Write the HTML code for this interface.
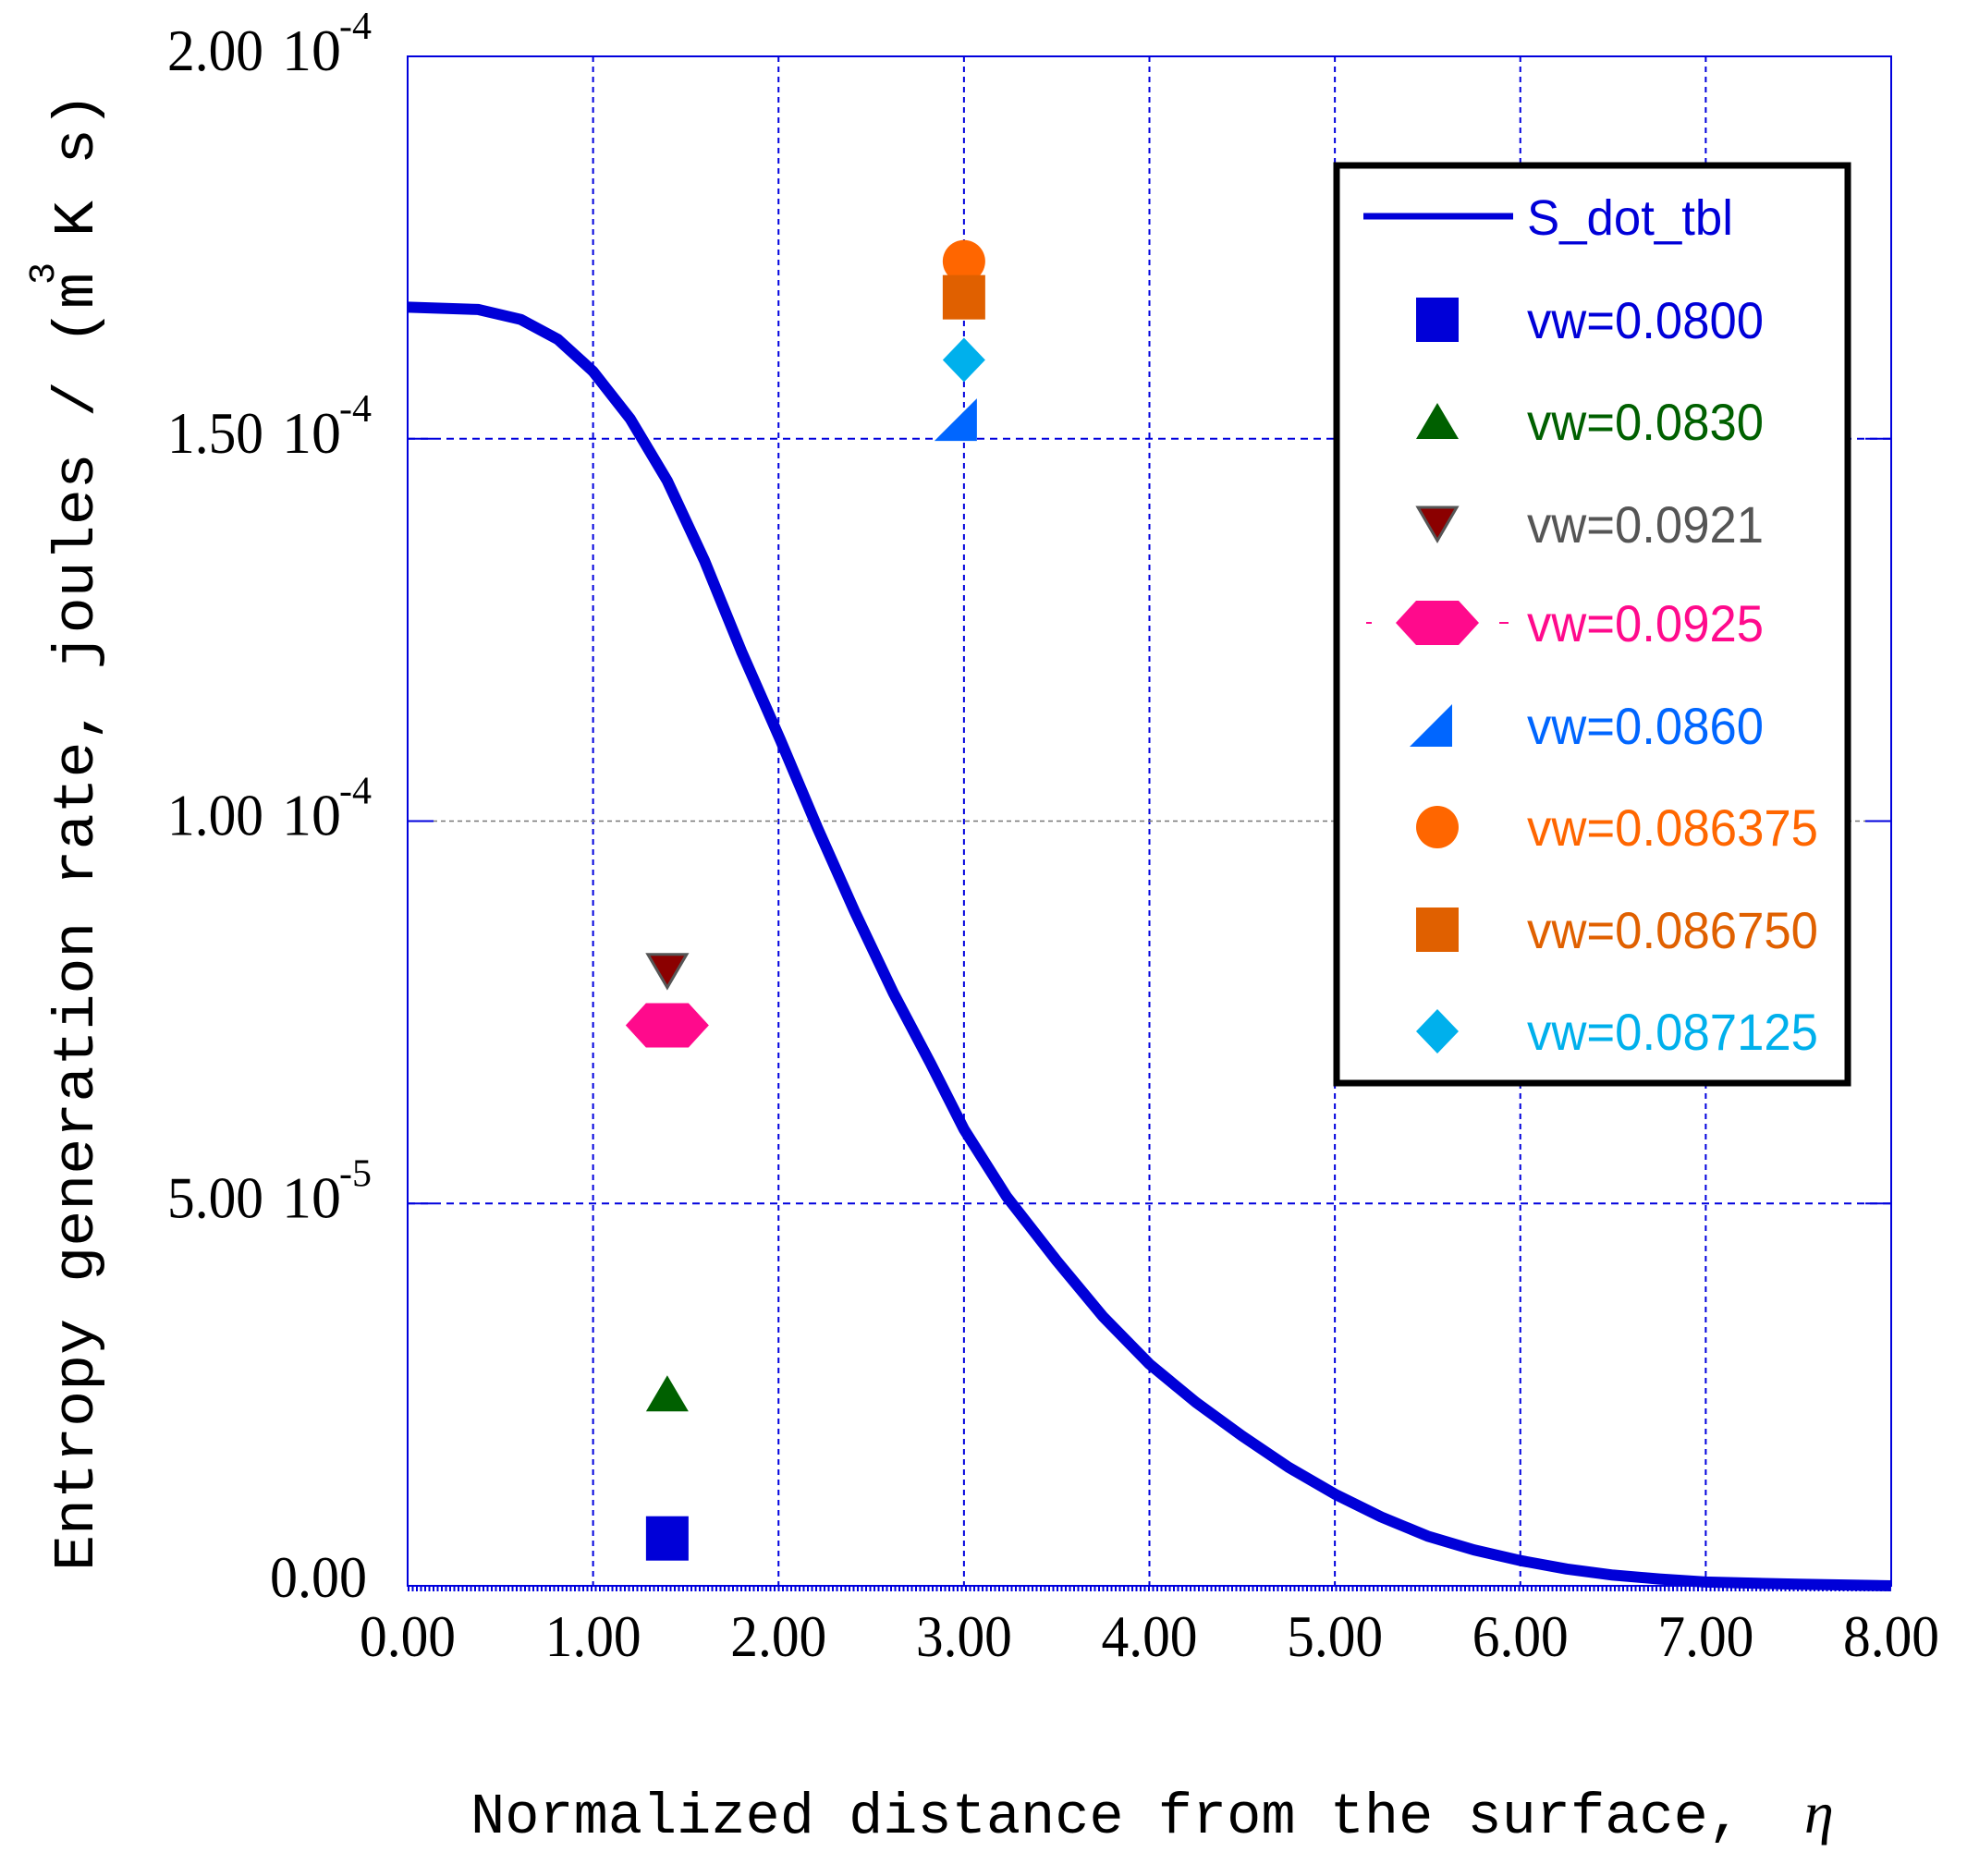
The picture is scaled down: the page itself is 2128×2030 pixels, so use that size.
<!DOCTYPE html>
<html><head><meta charset="utf-8"><style>
html,body{margin:0;padding:0;background:#fff;}
svg{display:block;}
</style></head><body>
<svg id="chart" width="2128" height="2030" viewBox="0 0 2128 2030" xmlns="http://www.w3.org/2000/svg">
<rect width="2128" height="2030" fill="#fff"/>
<g id="grid"></g>
<g id="axes"></g>
<g id="series"></g>
<g id="legend">
  <rect x="1446" y="179" width="553" height="993" fill="#fff" stroke="#000" stroke-width="7"/>
</g>
<text x="509" y="1983" font-family="'Liberation Mono', monospace" font-size="62" textLength="1376" lengthAdjust="spacingAndGlyphs" fill="#000">Normalized distance from the surface,</text>
<text x="1952" y="1983" font-family="'Liberation Serif', serif" font-style="italic" font-size="64" fill="#000">η</text>
<text transform="translate(100,1700) rotate(-90)" x="0" y="0" font-family="'Liberation Mono', monospace" font-size="62" textLength="1600" lengthAdjust="spacingAndGlyphs" fill="#000">Entropy generation rate, joules / (m  K s)</text>
<text transform="translate(58,296) rotate(-90)" x="0" y="0" text-anchor="middle" font-family="'Liberation Mono', monospace" font-size="40" fill="#000">3</text>
</svg>
<script>
const curveEta = [0, 0.38, 0.61, 0.81, 1.0, 1.2, 1.4, 1.6, 1.8, 2.01, 2.21, 2.41, 2.62, 2.82, 3.0, 3.23, 3.5, 3.75, 4.0, 4.25, 4.5, 4.75, 5.0, 5.25, 5.5, 5.75, 6.0, 6.25, 6.5, 6.75, 7.0, 7.5, 8.0];
const curveS = [1.672, 1.669, 1.656, 1.630, 1.588, 1.526, 1.445, 1.341, 1.222, 1.106, 0.991, 0.882, 0.775, 0.683, 0.597, 0.509, 0.425, 0.352, 0.290, 0.240, 0.196, 0.155, 0.120, 0.090, 0.065, 0.047, 0.033, 0.022, 0.014, 0.009, 0.005, 0.002, 0.0];
const markerNames = ["vw=0.0800","vw=0.0830","vw=0.0921","vw=0.0925","vw=0.0860","vw=0.086375","vw=0.086750","vw=0.087125"];
const markerEta = [1.40, 1.40, 1.40, 1.40, 2.99, 3.0, 3.0, 3.0];
const markerS = [0.062, 0.251, 0.804, 0.733, 1.525, 1.732, 1.685, 1.603];
const xTicks = [0,1,2,3,4,5,6,7,8];
const xTickLabels = ["0.00","1.00","2.00","3.00","4.00","5.00","6.00","7.00","8.00"];
const yTicks = [0, 0.5, 1.0, 1.5, 2.0];
const yTickMant = ["0.00","5.00","1.00","1.50","2.00"];
const yTickExp = ["","-5","-4","-4","-4"];

const NS = "http://www.w3.org/2000/svg";
const X0=441, X1=2046, Y0=1716, Y1=61;
const xs = v => X0 + (v-0)/(8-0)*(X1-X0);
const ys = v => Y0 - (v-0)/(2-0)*(Y0-Y1);
function mk(tag, attrs, parent){const e=document.createElementNS(NS,tag);for(const k in attrs)e.setAttribute(k,attrs[k]);parent.appendChild(e);return e;}
const grid=document.getElementById('grid'), axes=document.getElementById('axes'), series=document.getElementById('series'), legend=document.getElementById('legend');

xTicks.forEach((t,i)=>{
  if(t>0 && t<8){
    const l=mk('line',{x1:xs(t),x2:xs(t),y1:Y1,y2:Y0,stroke:'#0000dd','stroke-width':2,'stroke-dasharray':'6 5'},grid);
    
    
  }
  const tx=mk('text',{x:xs(t),y:1792,'text-anchor':'middle','font-family':"'Liberation Serif', serif",'font-size':64,textLength:104,lengthAdjust:'spacingAndGlyphs',fill:'#000'},axes);
  tx.textContent=xTickLabels[i];
  
  
});
yTicks.forEach((t,i)=>{
  if(t>0 && t<2){
    const gray = Math.abs(t-1.0)<1e-9;
    const l=mk('line',{x1:X0,x2:X1,y1:ys(t),y2:ys(t),stroke:gray?'#777':'#0000dd','stroke-width':gray?1.5:2,'stroke-dasharray':gray?'5 4':'8 6'},grid);
    
    
    const tk=mk('line',{x1:X0,x2:X0+28,y1:ys(t),y2:ys(t),stroke:'#0000dd','stroke-width':2},grid);
    
    
    const tk2=mk('line',{x1:X1-28,x2:X1,y1:ys(t),y2:ys(t),stroke:'#0000dd','stroke-width':2},grid);
    
    
  }
  const y=ys(t);
  if(yTickExp[i]===""){
    const tx=mk('text',{x:292,y:y+12,'font-family':"'Liberation Serif', serif",'font-size':64,textLength:105,lengthAdjust:'spacingAndGlyphs',fill:'#000'},axes);
    tx.textContent=yTickMant[i];
    
    
  } else {
    const tx=mk('text',{x:181,y:y+15,'font-family':"'Liberation Serif', serif",'font-size':64,fill:'#000'},axes);
    const a=document.createElementNS(NS,'tspan');a.setAttribute('textLength',104);a.setAttribute('lengthAdjust','spacingAndGlyphs');a.textContent=yTickMant[i];tx.appendChild(a);
    const b=document.createElementNS(NS,'tspan');b.setAttribute('x',305);b.textContent='10';tx.appendChild(b);
    
    
    const ex=mk('text',{x:367,y:y-19,'font-family':"'Liberation Serif', serif",'font-size':42,fill:'#000'},axes);
    ex.textContent=yTickExp[i];
    
    
  }
});
const fr=mk('rect',{x:X0,y:Y1,width:X1-X0,height:Y0-Y1,fill:'none',stroke:'#0000dd','stroke-width':2},axes);


const mt=mk('line',{x1:X0,x2:X1,y1:Y0+3,y2:Y0+3,stroke:'#0000dd','stroke-width':6,'stroke-dasharray':'2 2.5'},axes);



const pts=curveEta.map((e,i)=>xs(e).toFixed(1)+','+ys(curveS[i]).toFixed(1)).join(' ');
const cv=mk('polyline',{points:pts,fill:'none',stroke:'#0000d8','stroke-width':12,'stroke-linejoin':'round'},series);



const colors=['#0000d8','#006000','#8b0000','#ff0a8c','#0066ff','#ff6600','#e06000','#00b0ec'];
function drawMarker(k,cx,cy,parent){
  const c=colors[k]; let e;
  if(k===0||k===6) e=mk('rect',{x:cx-23,y:cy-24,width:46,height:48,fill:c},parent);
  else if(k===1) e=mk('polygon',{points:`${cx},${cy-20} ${cx+23},${cy+19} ${cx-23},${cy+19}`,fill:c},parent);
  else if(k===2) e=mk('polygon',{points:`${cx-21},${cy-18} ${cx+21},${cy-18} ${cx},${cy+18}`,fill:c,stroke:'#555','stroke-width':3},parent);
  else if(k===3) e=mk('polygon',{points:`${cx-45},${cy} ${cx-23},${cy-24} ${cx+23},${cy-24} ${cx+45},${cy} ${cx+23},${cy+24} ${cx-23},${cy+24}`,fill:c},parent);
  else if(k===4) e=mk('polygon',{points:`${cx-30},${cy+23} ${cx+16},${cy-23} ${cx+16},${cy+23}`,fill:c},parent);
  else if(k===5) e=mk('ellipse',{cx:cx,cy:cy,rx:23,ry:23,fill:c},parent);
  else e=mk('polygon',{points:`${cx},${cy-24} ${cx+23},${cy} ${cx},${cy+24} ${cx-23},${cy}`,fill:c},parent);
  return e;
}
markerEta.forEach((e,k)=>{
  const m=drawMarker(k,xs(e),ys(markerS[k]),series);
  
  
});

const textColors=['#0000d8','#006000','#555555','#ff0a8c','#0066ff','#ff6600','#e06000','#00b0ec'];
const ll=mk('line',{x1:1475,x2:1637,y1:234,y2:234,stroke:'#0000d8','stroke-width':7},legend);


const lt=mk('text',{x:1652,y:254,'font-family':"'Liberation Sans', sans-serif",'font-size':54,textLength:223,lengthAdjust:'spacingAndGlyphs',fill:'#0000d8'},legend);
lt.textContent='S_dot_tbl';


const rowY=[346,456,567,674,785,895,1006,1116];
markerNames.forEach((n,k)=>{
  const m=drawMarker(k,1555,rowY[k],legend);
  
  
  const t=mk('text',{x:1652,y:rowY[k]+20,'font-family':"'Liberation Sans', sans-serif",'font-size':56,textLength:n.length>9?315:256,lengthAdjust:'spacingAndGlyphs',fill:textColors[k]},legend);
  t.textContent=n;
  
  
});
[[1478,1484],[1622,1632]].forEach(p=>{
  const d=mk('line',{x1:p[0],x2:p[1],y1:674,y2:674,stroke:'#ff0a8c','stroke-width':2},legend);
  
  
});
</script>
</body></html>
